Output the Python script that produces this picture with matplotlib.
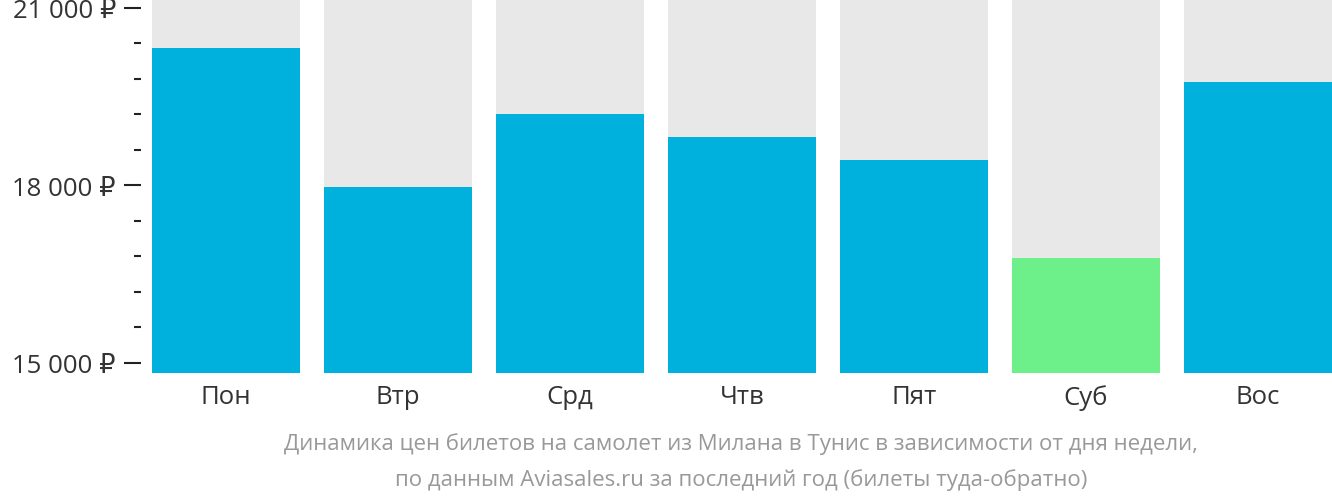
import matplotlib
matplotlib.use("Agg")
import matplotlib.pyplot as plt
from matplotlib.ticker import FixedLocator, MultipleLocator, FuncFormatter

days = ["Пон", "Втр", "Срд", "Чтв", "Пят", "Суб", "Вос"]
prices = [20320, 17980, 19200, 18810, 18430, 16780, 19740]
colors = ["#00B1DD", "#00B1DD", "#00B1DD", "#00B1DD", "#00B1DD", "#6DF08A", "#00B1DD"]
yticks = [15000, 18000, 21000]
caption_lines = ["Динамика цен билетов на самолет из Милана в Тунис в зависимости от дня недели,",
                 "по данным Aviasales.ru за последний год (билеты туда-обратно)"]

plt.rcParams['font.family'] = ['Open Sans', 'DejaVu Sans']

W, H = 1332, 502
fig = plt.figure(figsize=(W / 100, H / 100), dpi=100)
ax = fig.add_axes([152 / W, 1 - 374 / H, 1180 / W, 374 / H])

ymin, ymax = 14830, 21150
x = range(len(days))
ax.bar(x, [ymax - ymin] * len(days), bottom=ymin, width=0.86, color="#E8E8E8")
ax.bar(x, [p - ymin for p in prices], bottom=ymin, width=0.86, color=colors)

ax.set_xlim(-0.43, len(days) - 1 + 0.43)
ax.set_ylim(ymin, ymax)
for s in ["top", "right", "bottom"]:
    ax.spines[s].set_visible(False)
ax.spines["left"].set_position(("outward", 8))
ax.spines["left"].set_visible(False)

ax.yaxis.set_major_locator(FixedLocator(yticks))
ax.yaxis.set_minor_locator(MultipleLocator(600))
ax.yaxis.set_major_formatter(FuncFormatter(lambda v, p: f"{int(v):,} ₽".replace(",", " ")))
ax.tick_params(axis="y", which="major", length=12, width=1.5, color="#222222",
               labelsize=18.5, labelcolor="#333333", pad=6)
ax.tick_params(axis="y", which="minor", length=5, width=1.5, color="#222222")

ax.set_xticks(list(x))
ax.set_xticklabels(days)
ax.tick_params(axis="x", length=0, labelsize=18.5, labelcolor="#333333", pad=8)

fig.text(741 / W, 1 - 444 / H, caption_lines[0], ha="center", va="center", fontsize=16,
         color="#999999")
fig.text(741 / W, 1 - 480 / H, caption_lines[1], ha="center", va="center", fontsize=16,
         color="#999999")

fig.savefig("out.png", dpi=100)
